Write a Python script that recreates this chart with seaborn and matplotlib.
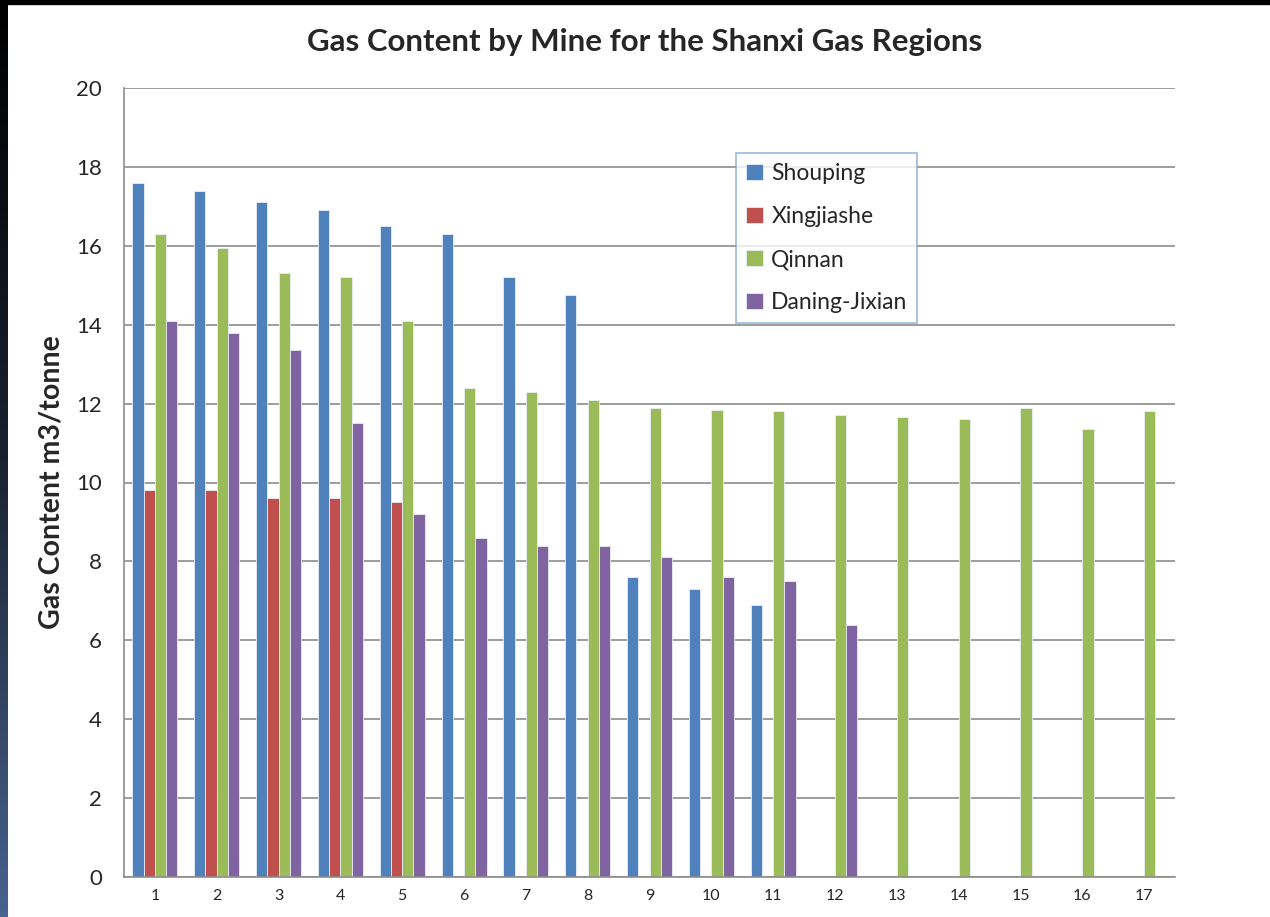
import numpy as np
import pandas as pd
import matplotlib
matplotlib.use('Agg')
import matplotlib.pyplot as plt
import seaborn as sns
from matplotlib.patches import Rectangle

# DATA
mines = [str(i) for i in range(1, 18)]
regions = ['Shouping', 'Xingjiashe', 'Qinnan', 'Daning-Jixian']
shouping = [17.6, 17.4, 17.1, 16.9, 16.5, 16.3, 15.2, 14.75, 7.6, 7.3, 6.9]
xingjiashe = [9.8, 9.8, 9.6, 9.6, 9.5]
qinnan = [16.3, 15.95, 15.3, 15.2, 14.1, 12.4, 12.3, 12.1, 11.9, 11.85, 11.8,
          11.7, 11.65, 11.6, 11.9, 11.35, 11.8]
daning = [14.1, 13.8, 13.35, 11.5, 9.2, 8.6, 8.4, 8.4, 8.1, 7.6, 7.5, 6.4]
colors = ['#4f81bd', '#c0504d', '#9bbb59', '#8064a2']

# long table for seaborn
rows = []
for name, vals in zip(regions, [shouping, xingjiashe, qinnan, daning]):
    for i, v in enumerate(vals):
        rows.append({'mine': mines[i], 'region': name, 'gas': v})
df = pd.DataFrame(rows)

sns.set_style('white')
plt.rcParams['font.family'] = ['Lato', 'DejaVu Sans']

fig = plt.figure(figsize=(12.7, 9.17), dpi=100)
ax = fig.add_axes([124 / 1270, 1 - 877 / 917, (1175 - 124) / 1270, (877 - 88) / 917])

sns.barplot(data=df, x='mine', y='gas', hue='region', order=mines,
            hue_order=regions, palette=colors, saturation=1, width=4 / 5.5, dodge=True,
            edgecolor='#e8eef6', linewidth=0.6, ax=ax, errorbar=None)

ax.set_xlim(-0.5, 16.5)
ax.set_ylim(0, 20)
ax.set_yticks(np.arange(0, 21, 2))
ax.yaxis.grid(True, color='#8c8c8c', linewidth=1.2)
ax.set_axisbelow(True)
for s in ['top', 'right']:
    ax.spines[s].set_visible(False)
for s in ['left', 'bottom']:
    ax.spines[s].set_color('#8c8c8c')
    ax.spines[s].set_linewidth(1.2)
ax.tick_params(axis='y', length=0, pad=16, labelsize=16)
ax.tick_params(axis='x', length=0, pad=9, labelsize=11.5)
ax.set_xlabel('')
ax.set_ylabel('Gas Content m3/tonne', fontsize=20.5, fontweight='bold', labelpad=8)

fig.text(0.5 + 10 / 1270, 1 - 42 / 917, 'Gas Content by Mine for the Shanxi Gas Regions',
         ha='center', va='center', fontsize=22.5, fontweight='bold')

leg = ax.legend(loc='upper left', bbox_to_anchor=((725 - 124) / 1051, (877 - 142) / 789),
                fontsize=16.5, frameon=True, fancybox=False, handlelength=0.75,
                handleheight=0.75, labelspacing=0.96, borderpad=0.42, handletextpad=0.35)
leg.get_frame().set_edgecolor('#7fa6d6')
leg.get_frame().set_linewidth(1.2)

# dark frame at the top and left edge
fig.patches.append(Rectangle((0, 1 - 4 / 917), 1, 4 / 917, transform=fig.transFigure,
                             color='black', zorder=10))
grad = np.linspace(0, 1, 256).reshape(-1, 1)
cmap = matplotlib.colors.LinearSegmentedColormap.from_list('edge', ['#48638f', '#1a2230', '#000000'])
lax = fig.add_axes([0, 0, 8 / 1270, 1])
lax.imshow(grad, aspect='auto', cmap=cmap, origin='lower')
lax.axis('off')

fig.savefig('out.png', dpi=100)
